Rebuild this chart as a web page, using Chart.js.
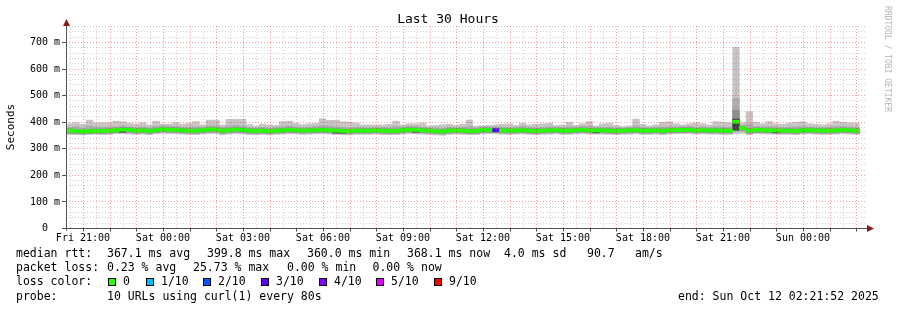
<!DOCTYPE html>
<html>
<head>
<meta charset="utf-8">
<script src="https://cdn.jsdelivr.net/npm/chart.js@4.4.1/dist/chart.umd.min.js"></script>
<style>
  html, body { margin: 0; padding: 0; background: #fff; }
  #wrap { width: 897px; height: 310px; position: relative; }
</style>
</head>
<body>
<div id="wrap"><canvas id="rtt" width="897" height="310"></canvas></div>
<script>
// smokeping style "Last 30 Hours" graph, 15 minute bins, values in ms
var BIN_HOURS = 0.25;

var medianRtt = [
  366, 364, 363, 364, 365, 365, 366, 368, 370, 369,
  366, 367, 365, 368, 371, 370, 369, 367, 366, 366,
  368, 371, 370, 366, 368, 371, 369, 366, 365, 366,
  364, 366, 367, 369, 368, 366, 367, 368, 369, 368,
  366, 365, 364, 366, 366, 366, 367, 366, 365, 365,
  368, 370, 369, 367, 366, 364, 363, 366, 367, 366,
  364, 365, 369, 368, 368, 367, 366, 367, 368, 366,
  365, 366, 367, 368, 366, 366, 368, 369, 367, 367,
  367, 366, 365, 366, 367, 368, 366, 366, 367, 365,
  368, 368, 369, 369, 367, 368, 367, 367, 366, 366,
  399.8, 376, 366, 369, 368, 367, 367, 366, 366, 365,
  367, 368, 367, 366, 366, 367, 369, 367, 366
];
var pingMax = [
  392, 396, 390, 406, 396, 396, 396, 402, 400, 394,
  391, 396, 388, 402, 391, 391, 396, 391, 394, 400,
  388, 406, 406, 388, 409, 409, 409, 389, 384, 391,
  388, 386, 400, 402, 394, 389, 392, 394, 411, 405,
  405, 400, 398, 395, 388, 388, 388, 388, 390, 402,
  388, 392, 392, 395, 384, 386, 388, 390, 386, 390,
  406, 384, 384, 386, 388, 390, 392, 386, 394, 388,
  390, 392, 394, 386, 388, 398, 386, 392, 400, 384,
  392, 394, 386, 382, 384, 410, 390, 384, 388, 398,
  400, 392, 388, 392, 396, 392, 388, 400, 398, 396,
  680, 396, 438, 398, 392, 400, 392, 390, 394, 398,
  400, 392, 390, 388, 392, 402, 398, 396, 394
];
var pingHigh = [
  378, 382, 376, 384, 380, 378, 379, 381, 384, 380,
  378, 380, 377, 382, 384, 383, 382, 379, 380, 381,
  378, 385, 384, 379, 384, 386, 382, 378, 376, 379,
  376, 378, 381, 384, 380, 378, 379, 382, 386, 384,
  381, 378, 377, 379, 378, 377, 379, 378, 378, 382,
  380, 383, 381, 380, 377, 376, 375, 379, 378, 379,
  382, 377, 381, 380, 380, 379, 378, 379, 382, 378,
  377, 379, 380, 378, 378, 382, 380, 382, 383, 378,
  379, 380, 377, 376, 378, 384, 379, 377, 379, 380,
  381, 380, 381, 382, 379, 380, 378, 382, 380, 379,
  488, 384, 392, 381, 380, 382, 380, 378, 379, 381,
  382, 380, 379, 378, 379, 382, 382, 380, 379
];
var pingLow = [
  357, 356, 355, 357, 358, 356, 357, 359, 360, 358,
  357, 358, 356, 359, 361, 360, 359, 358, 357, 356,
  358, 360, 360, 356, 358, 360, 359, 356, 356, 357,
  355, 357, 358, 360, 359, 357, 358, 359, 360, 358,
  357, 356, 355, 357, 357, 357, 358, 356, 356, 356,
  358, 360, 359, 358, 357, 355, 354, 357, 358, 357,
  356, 356, 359, 360, 360, 358, 357, 358, 359, 357,
  356, 357, 358, 359, 357, 357, 359, 360, 358, 358,
  358, 357, 356, 357, 358, 359, 357, 357, 358, 356,
  358, 359, 360, 360, 358, 359, 358, 358, 357, 357,
  364, 365, 356, 360, 359, 358, 358, 357, 357, 356,
  358, 359, 358, 357, 357, 358, 360, 358, 357
];
var pingMin = [
  352, 351, 350, 352, 353, 351, 352, 354, 355, 353,
  352, 353, 351, 354, 356, 355, 354, 353, 352, 351,
  353, 355, 355, 351, 353, 355, 354, 351, 351, 352,
  350, 352, 353, 355, 354, 352, 353, 354, 355, 353,
  352, 351, 350, 352, 352, 352, 353, 351, 351, 351,
  353, 355, 354, 353, 352, 350, 349, 352, 353, 352,
  351, 351, 354, 355, 355, 353, 352, 353, 354, 352,
  351, 352, 353, 354, 352, 352, 354, 355, 353, 353,
  353, 352, 351, 352, 353, 354, 352, 352, 353, 351,
  353, 354, 355, 355, 353, 354, 353, 353, 352, 352,
  355, 357, 351, 355, 354, 353, 353, 352, 352, 351,
  353, 354, 353, 352, 352, 353, 355, 353, 352
];

// a few darker smoke pieces (bin index, low, high)
var shadeBins = [100];
var shadeLow = [406];
var shadeHigh = [444];
var darkBins = [8, 40, 41, 52, 79, 100, 106];
var darkLow = [360, 357, 357, 360, 358, 368, 358];
var darkHigh = [363, 360, 360, 363, 361, 410, 361];

// packet loss per bin, in tenths (only bins with loss)
var lossBins = [64];
var lossTenths = [3];

var lossLabels = ['0', '1/10', '2/10', '3/10', '4/10', '5/10', '9/10'];
var lossLevels = [0, 1, 2, 3, 4, 5, 9];
var lossColors = ['#26ff00', '#00b8ff', '#0059ff', '#5e00ff', '#7e00ff', '#dd00ff', '#ff0000'];

var yTickValues = [0, 100, 200, 300, 400, 500, 600, 700];
var yTickLabels = ['0', '100 m', '200 m', '300 m', '400 m', '500 m', '600 m', '700 m'];
// hours since graph start (Fri 20:21:52)
var xTickHours = [0.636, 3.636, 6.636, 9.636, 12.636, 15.636, 18.636, 21.636, 24.636, 27.636];
var xTickLabels = ['Fri 21:00', 'Sat 00:00', 'Sat 03:00', 'Sat 06:00', 'Sat 09:00',
  'Sat 12:00', 'Sat 15:00', 'Sat 18:00', 'Sat 21:00', 'Sun 00:00'];

var MONO = '"DejaVu Sans Mono", "Liberation Mono", monospace';

function binX(i) { return i * BIN_HOURS + BIN_HOURS / 2; }

function bandData(lo, hi) {
  return lo.map(function (v, i) { return { x: binX(i), y: [v, hi[i]] }; });
}
function sparseData(idx, lo, hi) {
  return idx.map(function (b, k) { return { x: binX(b), y: [lo[k], hi[k]] }; });
}
function lossColorFor(i) {
  var k = lossBins.indexOf(i);
  if (k < 0) return lossColors[0];
  var lvl = lossLevels.indexOf(lossTenths[k]);
  return lossColors[lvl < 0 ? 0 : lvl];
}

var medianBand = medianRtt.map(function (v, i) { return { x: binX(i), y: [v - 6, v + 6] }; });
var innerBand = medianRtt.map(function (v, i) { return { x: binX(i), y: [v - 9, v + 8] }; });

var barCommon = { grouped: false, barPercentage: 1, categoryPercentage: 1, borderWidth: 0 };

function ds(label, data, color, order) {
  return Object.assign({ label: label, data: data, backgroundColor: color, order: order }, barCommon);
}

var gridAndAxes = {
  id: 'gridAndAxes',
  afterDatasetsDraw: function (chart) {
    var ctx = chart.ctx, a = chart.chartArea;
    var xs = chart.scales.x, ys = chart.scales.y;
    ctx.save();
    ctx.lineWidth = 1;
    // horizontal grid: minor every 20 ms, major every 100 ms
    for (var v = 20; v <= 760; v += 20) {
      var py = Math.round(ys.getPixelForValue(v)) + 0.5;
      ctx.strokeStyle = v % 100 === 0 ? 'rgba(255,0,0,0.4)' : 'rgba(140,140,140,0.4)';
      ctx.setLineDash([1, 2]);
      ctx.beginPath(); ctx.moveTo(a.left, py); ctx.lineTo(a.right, py); ctx.stroke();
    }
    // vertical grid: half hours grey, hours red
    for (var h = xTickHours[0] - 0.5; h < 30; h += 0.5) {
      if (h < 0) continue;
      var px = Math.round(xs.getPixelForValue(h)) + 0.5;
      var major = Math.abs((h - xTickHours[0]) % 1) < 0.01;
      ctx.strokeStyle = major ? 'rgba(255,0,0,0.4)' : 'rgba(140,140,140,0.4)';
      ctx.beginPath(); ctx.moveTo(px, a.top); ctx.lineTo(px, a.bottom); ctx.stroke();
    }
    ctx.restore();
  },
  afterDraw: function (chart) {
    var ctx = chart.ctx, a = chart.chartArea;
    var xs = chart.scales.x, ys = chart.scales.y;
    ctx.save();
    ctx.setLineDash([]);
    ctx.strokeStyle = '#505050';
    ctx.lineWidth = 1;
    var y0 = Math.round(ys.getPixelForValue(0)) + 0.5;
    var xl = Math.round(a.left) + 0.5;
    ctx.beginPath();
    ctx.moveTo(xl, y0 + 2); ctx.lineTo(xl, a.top - 2);
    ctx.moveTo(a.left - 4, y0); ctx.lineTo(a.right + 3, y0);
    // y ticks
    yTickValues.forEach(function (v) {
      var py = Math.round(ys.getPixelForValue(v)) + 0.5;
      ctx.moveTo(a.left - 4, py); ctx.lineTo(a.left, py);
    });
    // x ticks every hour
    for (var h = xTickHours[0]; h < 30; h += 1) {
      var px = Math.round(xs.getPixelForValue(h)) + 0.5;
      ctx.moveTo(px, y0); ctx.lineTo(px, y0 + 3);
    }
    ctx.stroke();
    // arrows
    ctx.fillStyle = '#8b1a1a';
    ctx.beginPath();
    ctx.moveTo(xl, a.top - 7); ctx.lineTo(xl - 3.5, a.top); ctx.lineTo(xl + 3.5, a.top); ctx.closePath();
    ctx.fill();
    ctx.beginPath();
    ctx.moveTo(a.right + 8, y0); ctx.lineTo(a.right + 1, y0 - 3.5); ctx.lineTo(a.right + 1, y0 + 3.5); ctx.closePath();
    ctx.fill();

    ctx.fillStyle = '#000';
    ctx.textBaseline = 'middle';
    ctx.textAlign = 'center';
    ctx.font = '10px ' + MONO;
    yTickValues.forEach(function (v, i) {
      ctx.fillText(yTickLabels[i], 45, ys.getPixelForValue(v) + 0.5);
    });
    xTickHours.forEach(function (h, i) {
      ctx.fillText(xTickLabels[i], xs.getPixelForValue(h), 238.5);
    });

    ctx.font = '13px ' + MONO;
    ctx.fillText('Last 30 Hours', 448, 19.5);

    ctx.save();
    ctx.font = '11px ' + MONO;
    ctx.translate(11, 127);
    ctx.rotate(-Math.PI / 2);
    ctx.fillText('Seconds', 0, 0);
    ctx.restore();

    ctx.save();
    ctx.font = '8px ' + MONO;
    ctx.fillStyle = '#b4b4b4';
    ctx.translate(887, 59);
    ctx.rotate(Math.PI / 2);
    ctx.fillText('RRDTOOL / TOBI OETIKER', 0, 0);
    ctx.restore();

    // legend block
    ctx.textAlign = 'left';
    ctx.font = '11.5px ' + MONO;
    var rows = [254, 268.3, 282.5, 296.7];
    var txt = [
      [16, rows[0], 'median rtt:'], [107, rows[0], '367.1 ms avg'], [207, rows[0], '399.8 ms max'],
      [307, rows[0], '360.0 ms min'], [407, rows[0], '368.1 ms now'], [504, rows[0], '4.0 ms sd'],
      [587, rows[0], '90.7'], [635, rows[0], 'am/s'],
      [16, rows[1], 'packet loss:'], [107, rows[1], '0.23 % avg'], [193, rows[1], '25.73 % max'],
      [287, rows[1], '0.00 % min'], [372.5, rows[1], '0.00 % now'],
      [16, rows[2], 'loss color:'],
      [16, rows[3], 'probe:'], [107, rows[3], '10 URLs using curl(1) every 80s'],
      [678, rows[3], 'end: Sun Oct 12 02:21:52 2025']
    ];
    txt.forEach(function (t) { ctx.fillText(t[2], t[0], t[1]); });
    var boxX = [108.5, 146.5, 203.5, 261.5, 319.5, 376.5, 434.5];
    lossLabels.forEach(function (lab, i) {
      ctx.fillStyle = lossColors[i];
      ctx.fillRect(boxX[i], 278.5, 7, 7);
      ctx.strokeStyle = '#000';
      ctx.strokeRect(boxX[i], 278.5, 7, 7);
      ctx.fillStyle = '#000';
      ctx.fillText(lab, boxX[i] + 14.5, rows[2]);
    });
    ctx.restore();
  }
};

var chart = new Chart(document.getElementById('rtt'), {
  type: 'bar',
  data: {
    datasets: [
      ds('median', medianBand, medianRtt.map(function (v, i) { return lossColorFor(i); }), 1),
      ds('dark', sparseData(darkBins, darkLow, darkHigh), '#3c3c3c', 2),
      ds('inner', innerBand, '#939393', 3),
      ds('shade', sparseData(shadeBins, shadeLow, shadeHigh), '#8e8e8e', 4),
      ds('mid', bandData(pingLow, pingHigh), '#adadad', 5),
      ds('outer', bandData(pingMin, pingMax), '#c6c6c6', 6)
    ]
  },
  options: {
    responsive: false,
    animation: false,
    layout: { padding: { left: 66, right: 31, top: 26, bottom: 82 } },
    plugins: { legend: { display: false }, tooltip: { enabled: false } },
    scales: {
      x: { type: 'linear', min: 0, max: 30, offset: false, display: false },
      y: { type: 'linear', min: 0, max: 760, display: false }
    }
  },
  plugins: [gridAndAxes]
});
</script>
</body>
</html>
